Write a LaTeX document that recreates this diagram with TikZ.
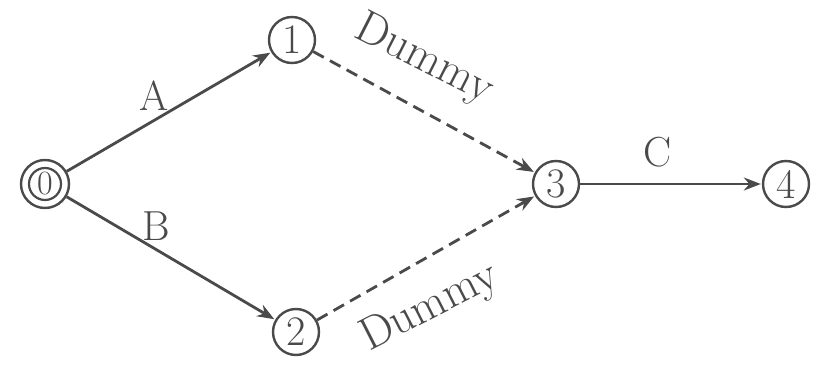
\documentclass[tikz,border=0pt]{standalone}
\usetikzlibrary{arrows.meta}
\definecolor{ink}{HTML}{4A4A4A}
\begin{document}
\begin{tikzpicture}[x=1pt,y=-1pt,
  ev/.style={circle,draw=ink,line width=2.4pt,minimum size=46pt,inner sep=0pt,text=ink,font=\fontsize{42}{46}\selectfont},
  act/.style={draw=ink,line width=2.8pt,-{Stealth[length=17pt,width=13pt]},shorten >=1pt},
  dum/.style={act,dashed,dash pattern=on 12pt off 7pt},
  lab/.style={text=ink,font=\fontsize{42}{46}\selectfont},
  dlab/.style={text=ink,font=\fontsize{46}{50}\selectfont}]
\fill[white] (0,0) rectangle (827,377);
\useasboundingbox (0,0) rectangle (827,377);
\node[ev,minimum size=48pt] (n0) at (45,184) {\fontsize{34}{38}\selectfont 0};
\draw[ink,line width=2.2pt] (n0.center) circle (16pt);
\node[ev] (n1) at (292,40) {1};
\node[ev] (n2) at (296,332) {2};
\node[ev] (n3) at (556,184) {3};
\node[ev] (n4) at (786,184) {4};
\draw[act] (n0) -- (n1);
\draw[act] (n0) -- (n2);
\draw[dum] (n1) -- (n3);
\draw[dum] (n2) -- (n3);
\draw[act] (n3) -- (n4);
\node[lab] (la) at (154,96) {A};
\node[lab] (lb) at (156,226) {B};
\node[lab] (lc) at (658,152) {C};
\node[dlab,rotate=-27] (ld1) at (424,60) {Dummy};
\node[dlab,rotate=27] (ld2) at (430,308) {Dummy};
\end{tikzpicture}
\end{document}
